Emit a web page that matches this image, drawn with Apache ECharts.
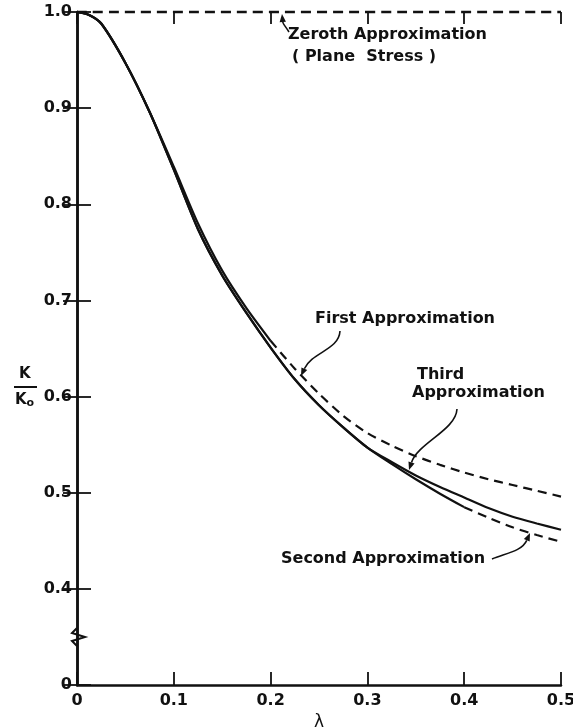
<!DOCTYPE html>
<html>
<head>
<meta charset="utf-8">
<script src="https://cdn.jsdelivr.net/npm/echarts@6/dist/echarts.min.js"></script>
<style>
  html, body { margin: 0; padding: 0; background: #fff; }
  #chart { width: 573px; height: 727px; }
</style>
</head>
<body>
<div id="chart"></div>
<script>
// lambda values
const lam = [0, 0.0125, 0.025, 0.05, 0.075, 0.1, 0.125, 0.15, 0.175, 0.2, 0.225,
  0.25, 0.275, 0.3, 0.325, 0.35, 0.375, 0.4, 0.425, 0.45, 0.475, 0.5];

// K / K0 for each approximation
const first = [1.0, 0.997, 0.988, 0.947, 0.896, 0.839, 0.780, 0.731, 0.692, 0.658, 0.629,
  0.603, 0.580, 0.562, 0.549, 0.538, 0.529, 0.521, 0.514, 0.508, 0.502, 0.496];
const second = [1.0, 0.997, 0.988, 0.947, 0.896, 0.836, 0.774, 0.726, 0.687, 0.651, 0.618,
  0.591, 0.568, 0.547, 0.530, 0.514, 0.499, 0.485, 0.474, 0.464, 0.456, 0.449];
const third = [1.0, 0.997, 0.988, 0.947, 0.896, 0.836, 0.774, 0.726, 0.687, 0.651, 0.618,
  0.591, 0.568, 0.547, 0.532, 0.518, 0.506, 0.495, 0.484, 0.475, 0.468, 0.4615];
const zerothLam = [0, 0.5];
const zeroth = [1.0, 1.0];

// where the first / second curves switch to dashes
const firstDashFrom = 0.2;
const secondDashFrom = 0.4;

// axis ticks
const xTicks = { min: 0, max: 0.5, step: 0.1 };
const yTicks = { min: 0.3, max: 1.0, step: 0.1 };  // 0.3 is drawn as "0" (broken axis)

const ink = '#111';
const font = 'DejaVu Sans';

const pairs = (xs, ys) => xs.map((x, i) => [x, ys[i]]);
const upTo = (xs, ys, lim) => pairs(xs, ys).filter(p => p[0] <= lim + 1e-9);
const from = (xs, ys, lim) => pairs(xs, ys).filter(p => p[0] >= lim - 1e-9);

const solid = { color: ink, width: 2.2, type: 'solid' };
const dashed = { color: ink, width: 2.2, type: [9, 6] };

const lineSeries = (name, data, style) => ({
  name,
  type: 'line',
  data,
  smooth: 0.25,
  symbol: 'none',
  clip: false,
  silent: true,
  lineStyle: style
});

const chart = echarts.init(document.getElementById('chart'));

const axisLabel = {
  color: ink,
  fontFamily: font,
  fontSize: 16,
  fontWeight: 'bold'
};

chart.setOption({
  backgroundColor: '#fff',
  animation: false,
  grid: { left: 77, right: 12, top: 12, bottom: 42, outerBoundsMode: 'none' },
  xAxis: [
    {
      type: 'value',
      position: 'bottom',
      min: xTicks.min,
      max: xTicks.max,
      interval: xTicks.step,
      name: 'λ',
      nameLocation: 'middle',
      nameGap: 27,
      nameTextStyle: { color: ink, fontFamily: font, fontSize: 17 },
      axisLine: { show: true, lineStyle: { color: ink, width: 2.5 } },
      axisTick: { show: true, inside: true, length: 13, lineStyle: { color: ink, width: 1.8 } },
      axisLabel: Object.assign({}, axisLabel, {
        margin: 8,
        formatter: v => (v === 0 ? '0' : v.toFixed(1))
      }),
      splitLine: { show: false }
    },
    {
      type: 'value',
      position: 'top',
      min: xTicks.min,
      max: xTicks.max,
      interval: xTicks.step,
      axisLine: { show: false },
      axisTick: { show: true, inside: true, length: 12, lineStyle: { color: ink, width: 1.8 } },
      axisLabel: { show: false },
      splitLine: { show: false }
    }
  ],
  yAxis: [
    {
      type: 'value',
      position: 'left',
      min: yTicks.min,
      max: yTicks.max,
      interval: yTicks.step,
      axisLine: { show: true, lineStyle: { color: ink, width: 2.5 } },
      axisTick: { show: true, inside: true, length: 14, lineStyle: { color: ink, width: 1.8 } },
      axisLabel: Object.assign({}, axisLabel, {
        margin: 5,
        formatter: v => (Math.abs(v - yTicks.min) < 1e-9 ? '0' : v.toFixed(1))
      }),
      splitLine: { show: false }
    },
    {
      type: 'value',
      position: 'right',
      min: yTicks.min,
      max: yTicks.max,
      interval: yTicks.step,
      axisLine: { show: true, lineStyle: { color: ink, width: 2.5 } },
      axisTick: { show: true, inside: true, length: 14, lineStyle: { color: ink, width: 1.8 } },
      axisLabel: { show: false },
      splitLine: { show: false }
    }
  ],
  series: [
    lineSeries('Zeroth Approximation', pairs(zerothLam, zeroth), { color: ink, width: 2.6, type: [10, 6] }),
    lineSeries('First Approximation', upTo(lam, first, firstDashFrom), solid),
    lineSeries('First Approximation', from(lam, first, firstDashFrom), dashed),
    lineSeries('Second Approximation', upTo(lam, second, secondDashFrom), solid),
    lineSeries('Second Approximation', from(lam, second, secondDashFrom), dashed),
    lineSeries('Third Approximation', pairs(lam, third), solid)
  ]
});

// annotations, leader arrows, axis break and y-axis name
const label = (text, x, y, extra) => ({
  type: 'text',
  x, y,
  style: Object.assign({ text, fill: ink, font: 'bold 16px "' + font + '"' }, extra || {}),
  silent: true
});

const arrow = (p0, c1, c2, tip) => {
  const dx = tip[0] - c2[0], dy = tip[1] - c2[1];
  const len = Math.hypot(dx, dy) || 1;
  const ux = dx / len, uy = dy / len;
  const hl = 8, hw = 3.2;
  const bx = tip[0] - ux * hl, by = tip[1] - uy * hl;
  return [
    {
      type: 'bezierCurve',
      shape: { x1: p0[0], y1: p0[1], cpx1: c1[0], cpy1: c1[1], cpx2: c2[0], cpy2: c2[1], x2: bx, y2: by },
      style: { stroke: ink, lineWidth: 1.6, fill: null },
      silent: true
    },
    {
      type: 'polygon',
      shape: { points: [tip, [bx - uy * hw, by + ux * hw], [bx + uy * hw, by - ux * hw]] },
      style: { fill: ink },
      silent: true
    }
  ];
};

const axisX = chart.convertToPixel({ xAxisIndex: 0 }, 0);
const breakY = chart.convertToPixel({ yAxisIndex: 0 }, 0.35);

chart.setOption({
  graphic: [
    label('Zeroth Approximation', 288, 27),
    label('( Plane Stress )', 292, 49, { text: '( Plane  Stress )' }),
    label('First Approximation', 315, 311),
    label('Third', 417, 367),
    label('Approximation', 412, 385),
    label('Second Approximation', 281, 551),
    ...arrow([289, 32], [286, 27], [283, 24], [282, 14]),
    ...arrow([340, 331], [339, 350], [312, 352], [301, 376]),
    ...arrow([457, 409], [456, 430], [418, 443], [409, 470]),
    ...arrow([492, 559], [507, 553], [522, 551], [530, 533]),
    // axis break
    {
      type: 'rect',
      shape: { x: axisX - 3, y: breakY - 9, width: 6, height: 18 },
      style: { fill: '#fff' },
      silent: true
    },
    {
      type: 'polyline',
      shape: {
        points: [
          [axisX, breakY - 9], [axisX - 5, breakY - 4], [axisX + 8, breakY],
          [axisX - 5, breakY + 4], [axisX, breakY + 9]
        ]
      },
      style: { stroke: ink, lineWidth: 2, fill: null },
      silent: true
    },
    // y-axis name K / K0
    label('K', 19, 367, { font: 'bold 15px "' + font + '"' }),
    {
      type: 'line',
      shape: { x1: 14, y1: 387, x2: 37, y2: 387 },
      style: { stroke: ink, lineWidth: 2 },
      silent: true
    },
    {
      type: 'text',
      x: 15, y: 392,
      style: {
        text: 'K{s|o}',
        fill: ink,
        font: 'bold 15px "' + font + '"',
        rich: { s: { fontFamily: font, fontSize: 11, fontWeight: 'bold', padding: [6, 0, 0, 0] } }
      },
      silent: true
    }
  ]
});
</script>
</body>
</html>
